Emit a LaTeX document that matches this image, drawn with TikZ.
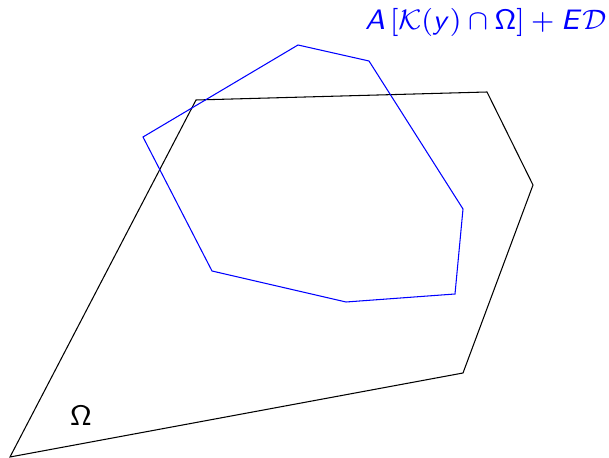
\documentclass[tikz,border=0pt]{standalone}
\usepackage{amsmath,amssymb}
\usepackage{xcolor}
\usepackage{tikz}
\usetikzlibrary{calc}
\DeclareMathAlphabet{\mathsfit}{OT1}{cmss}{m}{sl}
\DeclareSymbolFont{sfgreek}{OT1}{cmss}{m}{n}
\DeclareMathSymbol{\sfOmega}{\mathalpha}{sfgreek}{"0A}

\begin{document}
\begin{tikzpicture}[
  x=0.01cm,y=-0.01cm,
  region/.style={line width=0.3pt,black,line join=miter},
  image/.style={line width=0.3pt,blue,line join=miter},
  lbl/.style={inner sep=0pt,font=\footnotesize}
]
  \useasboundingbox (0,0) rectangle (609,458);
  % the set Omega
  \coordinate (o1) at (10,457);
  \coordinate (o2) at (196,100);
  \coordinate (o3) at (487,92);
  \coordinate (o4) at (533,185);
  \coordinate (o5) at (463,373);
  \draw[region] (o1) -- (o2) -- (o3) -- (o4) -- (o5) -- cycle;
  \node[lbl] (omega) at (81,416) {$\sfOmega$};

  % its image
  \coordinate (k1) at (143,137);
  \coordinate (k2) at (298,45);
  \coordinate (k3) at (369,61);
  \coordinate (k4) at (463,209);
  \coordinate (k5) at (455,294);
  \coordinate (k6) at (346,302);
  \coordinate (k7) at (212,271);
  \draw[image] (k1) -- (k2) -- (k3) -- (k4) -- (k5) -- (k6) -- (k7) -- cycle;
  \node[lbl,blue,anchor=east] (img) at (607,22)
    {$\mathsfit{A}\,\mathsf{[}\mathcal{K}\mathsf{(}\mathsfit{y}\mathsf{)}\cap\sfOmega\mathsf{]}+\mathsfit{E}\mathcal{D}$};
\end{tikzpicture}
\end{document}
